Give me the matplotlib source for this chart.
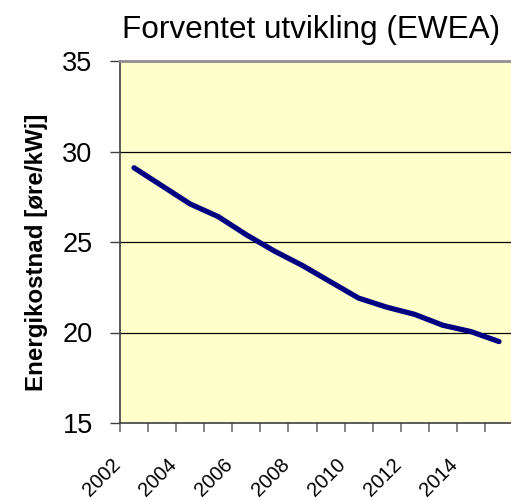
import matplotlib
matplotlib.use("Agg")
import matplotlib.pyplot as plt
from matplotlib.transforms import ScaledTranslation

plt.rcParams['font.family'] = ['Liberation Sans', 'DejaVu Sans']

years = [2002, 2003, 2004, 2005, 2006, 2007, 2008, 2009, 2010, 2011, 2012, 2013, 2014, 2015]
cost = [29.1, 28.1, 27.1, 26.4, 25.4, 24.5, 23.7, 22.8, 21.9, 21.4, 21.0, 20.4, 20.05, 19.5]
yticks = [15, 20, 25, 30, 35]

fig = plt.figure(figsize=(5.11, 5.01), dpi=100)
ax = fig.add_axes([120/511, 78/501, 393/511, 362/501])
ax.set_facecolor('#FFFFCC')

x = list(range(len(years)))
ax.plot(x, cost, color='#000080', lw=3.8, solid_capstyle='round', solid_joinstyle='round', zorder=3)

ax.set_xlim(-0.5, len(years) - 0.5)
ax.set_ylim(15, 35)

ax.set_yticks(yticks)
ax.set_yticklabels([str(v) for v in yticks], fontsize=19.5)
ax.tick_params(axis='y', length=7.2, width=1, color='#404040', pad=12.5)
for v in yticks[1:-1]:
    ax.axhline(v, color='black', lw=0.9, zorder=1)

# category boundaries get tick marks, labels sit on every other category
ax.set_xticks([i - 0.5 for i in range(len(years) + 1)])
ax.set_xticklabels([])
ax.tick_params(axis='x', which='major', length=6.5, width=1.2, color='#707070')
ax.set_xticks(x[::2], minor=True)
ax.set_xticklabels([str(y) for y in years[::2]], minor=True, fontsize=14.5, rotation=45, ha='right', va='top')
ax.tick_params(axis='x', which='minor', length=0, pad=23)
off = ScaledTranslation(-9.5/100, 0, fig.dpi_scale_trans)
for lab in ax.get_xticklabels(minor=True):
    lab.set_transform(lab.get_transform() + off)

ax.spines['top'].set_color('#909090')
ax.spines['top'].set_linewidth(2)
ax.spines['right'].set_visible(False)
ax.spines['left'].set_color('#404040')
ax.spines['left'].set_linewidth(1.2)
ax.spines['bottom'].set_color('#404040')
ax.spines['bottom'].set_linewidth(1.2)

ax.set_ylabel('Energikostnad [øre/kWj]', fontsize=17.4, fontweight='bold')
ax.yaxis.set_label_coords(-72/393, (423 - 252)/362)

fig.text(311/511, 1 - 38/501, 'Forventet utvikling (EWEA)', fontsize=22.7, ha='center', va='baseline')

fig.savefig('out.png', dpi=100)
